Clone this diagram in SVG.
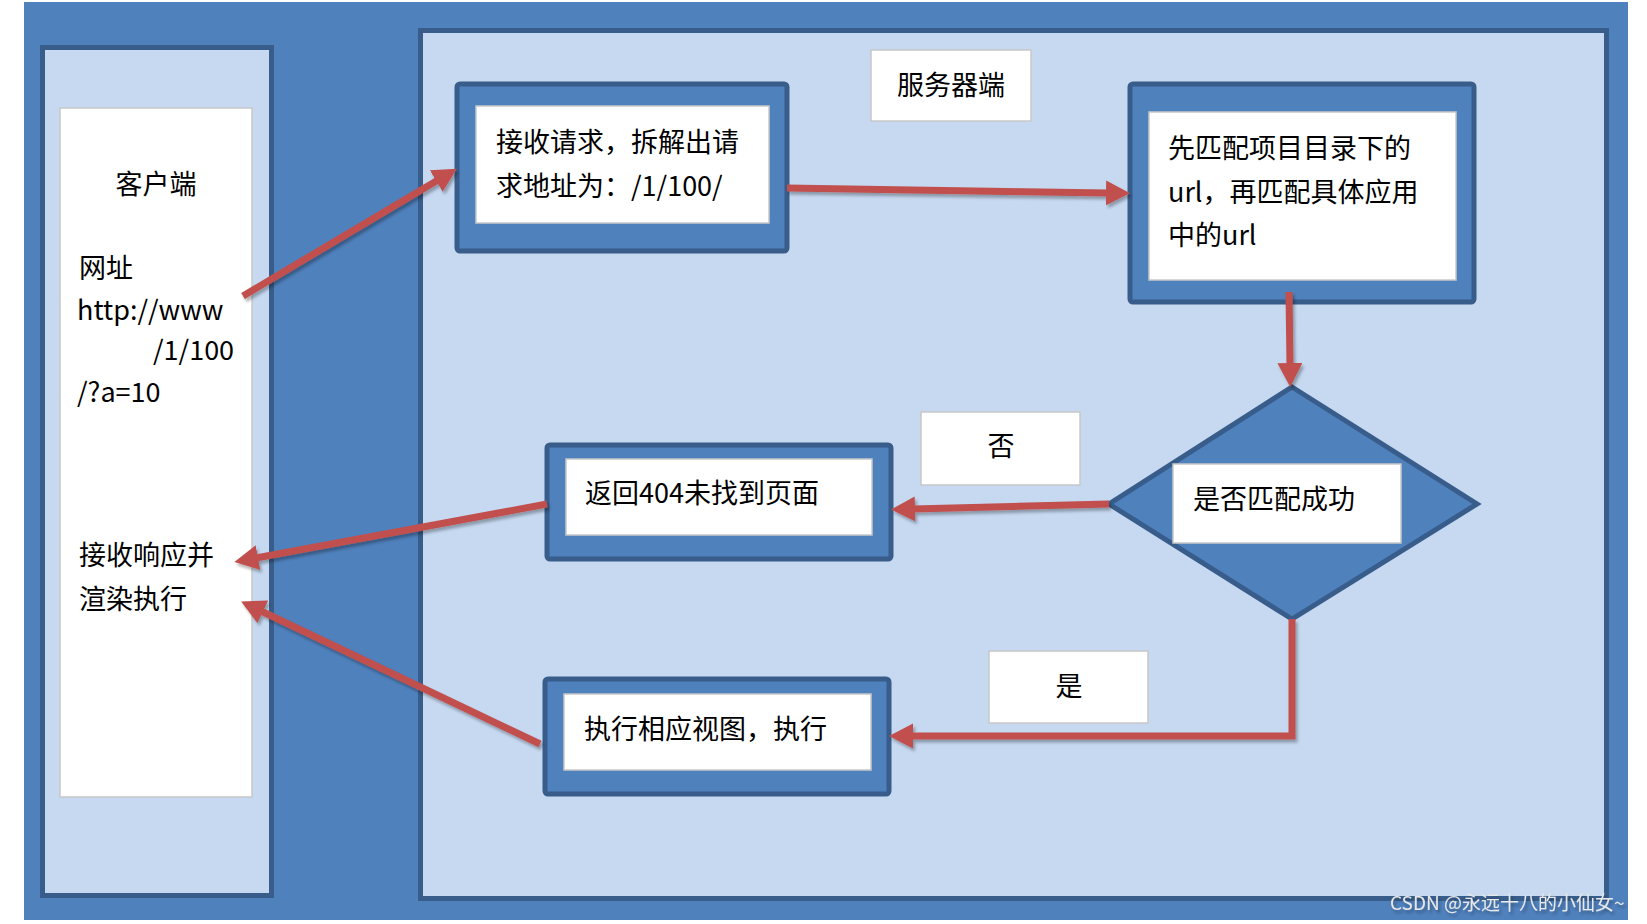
<svg xmlns="http://www.w3.org/2000/svg" width="1647" height="924" viewBox="0 0 1647 924">
<style>
.bg{fill:#4F81BD}
.panel{fill:#C6D9F1;stroke:#385D8A;stroke-width:5}
.box{fill:#4F81BD;stroke:#385D8A;stroke-width:5}
.white{fill:#FFFFFF;stroke:#C8C8C8;stroke-width:1.5}
.t{font-family:"Noto Sans CJK SC","Liberation Sans",sans-serif;font-size:27px;fill:#000}
.c{text-anchor:middle}
.arr{fill:none;stroke:#C0504D;stroke-width:7;stroke-linejoin:miter}
.wm{font-family:"Noto Sans CJK SC","Liberation Sans",sans-serif;font-size:19px;fill:#E8E8E8}
</style>
<defs>
<marker id="ah" markerUnits="userSpaceOnUse" markerWidth="26" markerHeight="26" refX="2" refY="12.5" orient="auto">
<path d="M0,0 L24,12.5 L0,25 z" fill="#C0504D"/>
</marker>
<filter id="sh" x="-10%" y="-10%" width="130%" height="130%">
<feDropShadow dx="2" dy="3" stdDeviation="1.5" flood-color="#000" flood-opacity="0.3"/>
</filter>
</defs>
<rect class="bg" x="24" y="2" width="1604" height="918"/>
<g id="client">
<rect class="panel" x="42.5" y="47.5" width="229" height="848"/>
<rect class="white" x="60" y="108" width="192" height="689"/>
<text class="t c" x="156" y="194">客户端</text>
<text class="t" x="79" y="278">网址</text>
<text class="t" x="77" y="320">http://www</text>
<text class="t" x="153" y="360">/1/100</text>
<text class="t" x="77" y="402">/?a=10</text>
<text class="t" x="79" y="565">接收响应并</text>
<text class="t" x="79" y="609">渲染执行</text>
</g>
<g id="server">
<rect class="panel" x="420.5" y="30.5" width="1186" height="868"/>
</g>
<g id="server-title">
<rect class="white" x="871" y="50" width="160" height="71"/>
<text class="t c" x="951" y="95">服务器端</text>
</g>
<g id="receive">
<rect class="box" x="457" y="84" width="330" height="167" rx="3"/>
<rect class="white" x="476" y="106" width="293" height="117"/>
<text class="t" x="496" y="152">接收请求，拆解出请</text>
<text class="t" x="496" y="196">求地址为：/1/100/</text>
</g>
<g id="match">
<rect class="box" x="1130" y="84" width="344" height="218" rx="3"/>
<rect class="white" x="1149" y="112" width="307" height="168"/>
<text class="t" x="1168" y="158">先匹配项目目录下的</text>
<text class="t" x="1168" y="202">url，再匹配具体应用</text>
<text class="t" x="1168" y="245">中的url</text>
</g>
<g id="decision">
<polygon class="box" points="1292,387 1477,504 1292,619 1109,504"/>
<rect class="white" x="1173" y="464" width="228" height="79"/>
<text class="t" x="1193" y="509">是否匹配成功</text>
</g>
<g id="label-no">
<rect class="white" x="921" y="412" width="159" height="73"/>
<text class="t c" x="1001" y="456">否</text>
</g>
<g id="label-yes">
<rect class="white" x="989" y="651" width="159" height="72"/>
<text class="t c" x="1069" y="696">是</text>
</g>
<g id="notfound">
<rect class="box" x="547" y="445" width="344" height="114" rx="3"/>
<rect class="white" x="566" y="459" width="306" height="76"/>
<text class="t" x="585" y="503">返回404未找到页面</text>
</g>
<g id="view">
<rect class="box" x="545" y="679" width="344" height="115" rx="3"/>
<rect class="white" x="564" y="694" width="307" height="76"/>
<text class="t" x="584" y="739">执行相应视图，执行</text>
</g>
<g id="connectors" filter="url(#sh)">
<line class="arr" x1="243" y1="296" x2="438" y2="180" marker-end="url(#ah)"/>
<line class="arr" x1="787" y1="188" x2="1108" y2="193" marker-end="url(#ah)"/>
<line class="arr" x1="1289" y1="292" x2="1290" y2="365" marker-end="url(#ah)"/>
<line class="arr" x1="1109" y1="504" x2="913" y2="509" marker-end="url(#ah)"/>
<line class="arr" x1="547" y1="504" x2="256" y2="558" marker-end="url(#ah)"/>
<polyline class="arr" points="1292,619 1292,736 911,736" marker-end="url(#ah)"/>
<line class="arr" x1="540" y1="744" x2="261" y2="611" marker-end="url(#ah)"/>
</g>
<text class="wm" x="1390" y="910" filter="url(#sh)">CSDN @永远十八的小仙女~</text>
</svg>
